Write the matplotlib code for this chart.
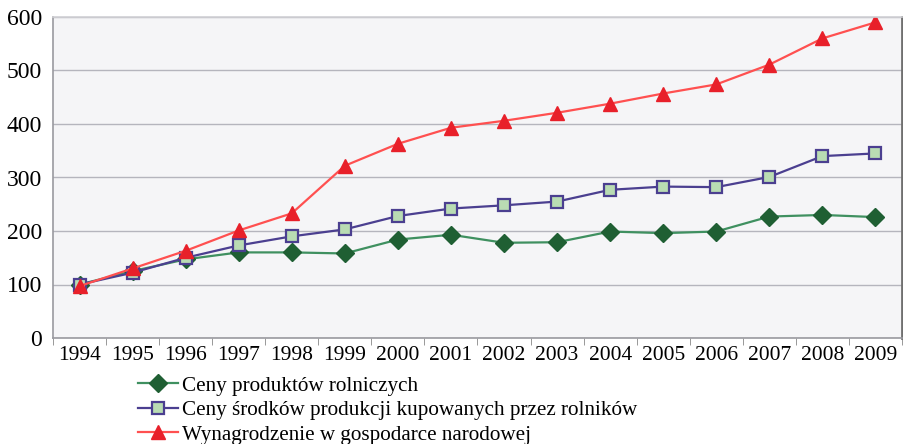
import matplotlib.pyplot as plt
from matplotlib.ticker import FixedLocator

years = [str(y) for y in range(1994, 2010)]
ceny_produktow = [100, 125, 147, 160, 160, 158, 184, 193, 178, 179, 199, 196, 199, 227, 230, 226]
ceny_srodkow = [100, 122, 150, 173, 190, 203, 228, 242, 248, 255, 277, 283, 282, 301, 340, 345]
wynagrodzenie = [97, 130, 163, 201, 233, 322, 363, 393, 406, 421, 438, 457, 474, 511, 560, 590]

plt.rcParams['font.family'] = ['Liberation Serif', 'DejaVu Serif']

fig = plt.figure(figsize=(9.04, 4.44), dpi=100)
ax = fig.add_axes([53 / 904, 1 - 338 / 444, 849 / 904, 321 / 444])
ax.set_facecolor('#f5f5f7')

x = list(range(len(years)))
ax.plot(x, ceny_produktow, color='#3f9060', lw=1.6, marker='D', ms=9,
        mfc='#1f5f33', mec='#1f5f33', label='Ceny produktów rolniczych')
ax.plot(x, ceny_srodkow, color='#4b3f90', lw=1.6, marker='s', ms=8,
        mfc='#b9dcb3', mec='#4b3f90', mew=1.6,
        label='Ceny środków produkcji kupowanych przez rolników')
ax.plot(x, wynagrodzenie, color='#ff5050', lw=1.6, marker='^', ms=10,
        mfc='#e8202a', mec='#e8202a', label='Wynagrodzenie w gospodarce narodowej')

ax.set_xlim(-0.5, len(years) - 0.5)
ax.set_ylim(0, 600)
ax.set_yticks(range(0, 601, 100))
ax.set_xticks(x)
ax.set_xticklabels(years)
ax.xaxis.set_minor_locator(FixedLocator([i + 0.5 for i in range(-1, len(years))]))
ax.tick_params(axis='x', which='major', length=0, labelsize=15.5, pad=6)
ax.tick_params(axis='x', which='minor', length=5, color='#888888', direction='out')
ax.tick_params(axis='y', length=0, labelsize=17, pad=8)
ax.grid(axis='y', color='#b5b5bd', lw=1)
ax.set_axisbelow(True)
for name, sp in ax.spines.items():
    sp.set_color('#9a9aa0')
    sp.set_linewidth(1.2)
ax.spines['right'].set_color('#707070')
ax.spines['right'].set_linewidth(2)
ax.spines['top'].set_color('#d0d0d4')

fig.legend(loc='upper left', bbox_to_anchor=(138 / 904, 1 - 376 / 444),
           frameon=False, fontsize=15.2, handlelength=1.9, handletextpad=0.2,
           labelspacing=0.22, borderaxespad=0, borderpad=0)

plt.savefig('out.png', dpi=100)
